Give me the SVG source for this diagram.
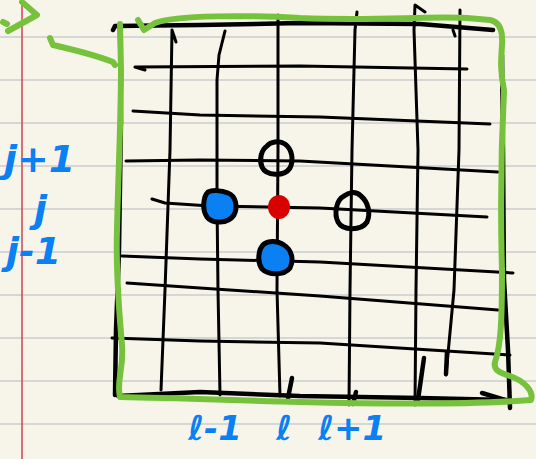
<svg xmlns="http://www.w3.org/2000/svg" width="536" height="459" viewBox="0 0 536 459">
<style>
.paper{fill:#f7f5e9}
.rule{stroke:#d6d6d4;stroke-width:2}
.margin{stroke:#d2424f;stroke-width:1.5}
.ink{fill:none;stroke:#000;stroke-width:3;stroke-linecap:round;stroke-linejoin:round}
.ink.bold{stroke-width:4.5}
.green{fill:none;stroke:#76c23c;stroke-width:6;stroke-linecap:round;stroke-linejoin:round}
.open{fill:none;stroke:#000;stroke-width:5}
.blue{fill:#0a80f2;stroke:#000;stroke-width:5}
.red{fill:#d80000}
.lbl{font-family:"DejaVu Sans",sans-serif;font-size:38px;font-weight:bold;fill:#0a80f2;font-style:italic}
.lbl.b{font-size:34px}
</style>
<rect class="paper" x="0" y="0" width="536" height="459"/>
<g id="paper-rules">
<line class="rule" x1="0" y1="37" x2="536" y2="37"/>
<line class="rule" x1="0" y1="80" x2="536" y2="80"/>
<line class="rule" x1="0" y1="123" x2="536" y2="123"/>
<line class="rule" x1="0" y1="166" x2="536" y2="166"/>
<line class="rule" x1="0" y1="209" x2="536" y2="209"/>
<line class="rule" x1="0" y1="252" x2="536" y2="252"/>
<line class="rule" x1="0" y1="295" x2="536" y2="295"/>
<line class="rule" x1="0" y1="338" x2="536" y2="338"/>
<line class="rule" x1="0" y1="381" x2="536" y2="381"/>
<line class="rule" x1="0" y1="424" x2="536" y2="424"/>
<line class="margin" x1="22" y1="0" x2="22" y2="459"/>
</g>
<g id="connectors">
<path class="ink bold" d="M113,30 L115,26 L200,25 L300,23 L420,24 L493,30"/>
<path class="ink bold" d="M120,26 L121,120 L119,250 L116,330 L115,395"/>
<path class="ink bold" d="M118,396 L200,392 L300,396 L420,398 L507,400"/>
<path class="ink bold" d="M482,393 L505,400"/>
<path class="ink bold" d="M502,55 L503,150 L504,280 L508,350 L510,408"/>
<path class="ink" d="M172,30 L176,42 M172,30 L170,150 L165,290 L161,390"/>
<path class="ink" d="M225,31 L219,55 L217,80 L217,200 L218,290 L220,395"/>
<path class="ink" d="M278,15 L278,150 L277,290 L280,396"/>
<path class="ink bold" d="M292,378 L288,398"/>
<path class="ink" d="M357,12 L355,30 L352,150 L350,290 L349,405"/>
<path class="ink bold" d="M356,392 L353,404"/>
<path class="ink" d="M425,12 L415,5 L414,30 L418,150 L416,290 L415,405"/>
<path class="ink bold" d="M424,358 L418,400"/>
<path class="ink" d="M453,30 L455,36 M460,10 L459,150 L454,290 L446,375"/>
<path class="ink bold" d="M447,352 L446,374"/>
<path class="ink" d="M135,67 L145,70 M135,67 L300,66 L467,69"/>
<path class="ink" d="M133,111 L200,115 L320,117 L490,124"/>
<path class="ink" d="M126,161 L200,160 L300,161 L498,172"/>
<path class="ink" d="M152,199 L165,203 L210,206 L320,208 L487,217"/>
<path class="ink" d="M122,256 L200,259 L320,262 L513,273"/>
<path class="ink" d="M127,283 L200,288 L320,296 L498,310"/>
<path class="ink" d="M112,338 L200,341 L320,343 L510,355"/>
</g>
<g id="green-outline">
<path class="green" d="M138,20 L144,30 L155,23 C175,15 250,15 300,18 C380,21 420,16 467,18 L490,20 C500,22 503,32 502,45 C501,60 500,70 504,90 C502,130 500,200 502,270 C502,320 501,345 495,362 C493,370 500,373 510,376 C525,381 534,392 531,400 C480,404 420,405 300,402 C250,401 180,398 120,397 C116,380 124,370 122,345 C118,300 116,260 117,230 C118,180 121,120 121,70 L120,24"/>
<path class="green" d="M22,2 L37,15 L8,31"/>
<path class="green" d="M3,22 L7,24"/>
<path class="green" d="M50,38 L53,45 C75,50 100,57 113,62 L115,65"/>
</g>
<g id="node-open-top">
<path class="open" d="M267,146 C261,150 259,160 262,167 C266,176 284,177 290,168 C294,160 292,149 285,144 C279,140 270,142 267,146 Z"/>
</g>
<g id="node-open-right">
<path class="open" d="M344,196 C336,200 334,214 338,222 C343,231 361,231 367,222 C371,213 368,202 361,196 C355,190 348,193 344,196 Z"/>
</g>
<g id="node-blue-left">
<path class="blue" d="M208,192 C203,197 202,210 207,217 C212,224 228,224 234,215 C238,207 236,196 228,193 C221,190 212,190 208,192 Z"/>
</g>
<g id="node-blue-bottom">
<path class="blue" d="M264,244 C258,249 257,262 262,269 C268,275 284,276 290,268 C294,260 292,250 284,245 C277,240 268,241 264,244 Z"/>
</g>
<g id="node-red-center">
<ellipse class="red" cx="279" cy="207" rx="11" ry="12"/>
</g>
<g id="labels">
<text class="lbl" x="4" y="172">j+1</text>
<text class="lbl" x="34" y="222">j</text>
<text class="lbl" x="6" y="264">j-1</text>
<text class="lbl b" x="188" y="440">ℓ-1</text>
<text class="lbl b" x="276" y="440">ℓ</text>
<text class="lbl b" x="318" y="440">ℓ+1</text>
</g>
</svg>
